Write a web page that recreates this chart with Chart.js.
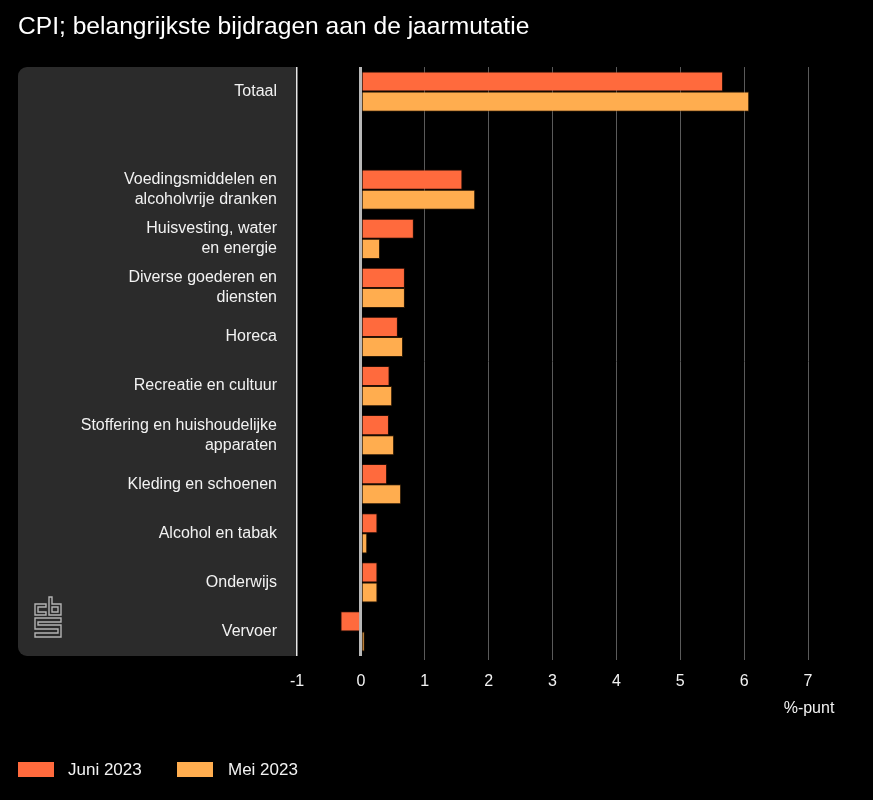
<!DOCTYPE html>
<html>
<head>
<meta charset="utf-8">
<script src="https://cdn.jsdelivr.net/npm/chart.js@4/dist/chart.umd.min.js"></script>
<style>
  html, body { margin: 0; padding: 0; background: #000; }
  #wrap { width: 873px; height: 800px; position: relative; }
</style>
</head>
<body>
<div id="wrap"><canvas id="c"></canvas></div>
<script>
const titleText = 'CPI; belangrijkste bijdragen aan de jaarmutatie';
const categories = [
  'Totaal',
  '',
  ['Voedingsmiddelen en', 'alcoholvrije dranken'],
  ['Huisvesting, water', 'en energie'],
  ['Diverse goederen en', 'diensten'],
  'Horeca',
  'Recreatie en cultuur',
  ['Stoffering en huishoudelijke', 'apparaten'],
  'Kleding en schoenen',
  'Alcohol en tabak',
  'Onderwijs',
  'Vervoer'
];
const seriesNames = ['Juni 2023', 'Mei 2023'];
const juni = [5.67, null, 1.59, 0.83, 0.69, 0.58, 0.45, 0.44, 0.41, 0.26, 0.26, -0.32];
const mei  = [6.08, null, 1.79, 0.30, 0.69, 0.66, 0.49, 0.52, 0.63, 0.10, 0.26, 0.06];
const xMin = -1, xMax = 7, xStep = 1;
const unitLabel = '%-punt';

const FONT = "'Liberation Sans', Arial, sans-serif";
const colJuni = '#ff6a3d';
const colMei = '#ffad4f';

const panelPlugin = {
  id: 'panel',
  beforeDraw(chart) {
    const {ctx, chartArea} = chart;
    ctx.save();
    ctx.fillStyle = '#000';
    ctx.fillRect(0, 0, chart.width, chart.height);
    const x0 = 18, x1 = chartArea.left, y0 = chartArea.top, y1 = chartArea.bottom;
    ctx.fillStyle = '#2b2b2b';
    ctx.beginPath();
    ctx.roundRect(x0, y0, x1 - x0, y1 - y0, [9, 0, 0, 9]);
    ctx.fill();
    // cbs logo
    ctx.strokeStyle = '#b4b4b4';
    ctx.lineWidth = 1.4;
    ctx.lineJoin = 'miter';
    ctx.beginPath();
    ctx.moveTo(46, 604); ctx.lineTo(35, 604); ctx.lineTo(35, 615); ctx.lineTo(46, 615);
    ctx.lineTo(46, 612); ctx.lineTo(38, 612); ctx.lineTo(38, 607); ctx.lineTo(46, 607); ctx.closePath();
    ctx.moveTo(49, 597); ctx.lineTo(52, 597); ctx.lineTo(52, 604); ctx.lineTo(61, 604);
    ctx.lineTo(61, 615); ctx.lineTo(49, 615); ctx.closePath();
    ctx.rect(52, 607, 6, 5);
    ctx.moveTo(35, 618); ctx.lineTo(61, 618); ctx.lineTo(61, 622); ctx.lineTo(38, 622);
    ctx.lineTo(38, 625); ctx.lineTo(61, 625); ctx.lineTo(61, 637); ctx.lineTo(35, 637);
    ctx.lineTo(35, 633); ctx.lineTo(58, 633); ctx.lineTo(58, 629); ctx.lineTo(35, 629); ctx.closePath();
    ctx.stroke();
    ctx.restore();
  },
  afterDraw(chart) {
    const {ctx} = chart;
    const xs = chart.scales.x;
    ctx.save();
    ctx.fillStyle = '#f2f2f2';
    ctx.font = '16px ' + FONT;
    ctx.textAlign = 'center';
    ctx.textBaseline = 'middle';
    ctx.fillText(unitLabel, xs.getPixelForValue(xMax) + 1, 709);
    // legend
    ctx.font = '17px ' + FONT;
    ctx.textAlign = 'left';
    const items = [[18, 68], [177, 228]];
    chart.data.datasets.forEach((ds, i) => {
      ctx.fillStyle = ds.backgroundColor;
      ctx.fillRect(items[i][0], 762, 36, 15);
      ctx.fillStyle = '#f2f2f2';
      ctx.fillText(ds.label, items[i][1], 770);
    });
    ctx.restore();
  }
};

new Chart(document.getElementById('c'), {
  type: 'bar',
  data: {
    labels: categories,
    datasets: [
      { label: seriesNames[0], data: juni, backgroundColor: colJuni, borderColor: 'rgba(70,25,10,0.55)', borderWidth: 1 },
      { label: seriesNames[1], data: mei, backgroundColor: colMei, borderColor: 'rgba(80,45,10,0.55)', borderWidth: 1 }
    ]
  },
  options: {
    indexAxis: 'y',
    responsive: true,
    maintainAspectRatio: false,
    animation: false,
    devicePixelRatio: 1,
    categoryPercentage: 0.82,
    barPercentage: 1.0,
    layout: { padding: { left: 18, right: 65, top: 0, bottom: 110 } },
    plugins: {
      legend: { display: false },
      tooltip: { enabled: false },
      title: {
        display: true,
        text: titleText,
        align: 'start',
        color: '#ffffff',
        font: { family: FONT, size: 24.6, weight: 'normal', lineHeight: 1.2 },
        padding: { top: 12, bottom: 25.5 }
      }
    },
    scales: {
      x: {
        type: 'linear',
        min: xMin, max: xMax,
        afterFit(s) { s.height = 34; },
        ticks: { stepSize: xStep, color: '#f2f2f2', padding: 12, font: { family: FONT, size: 16 } },
        border: { display: false },
        grid: {
          drawTicks: true,
          tickLength: 4,
          color: (c) => c.tick && c.tick.value === -1 ? '#e6e6e6' : (c.tick && c.tick.value === 0 ? '#b8b8b8' : '#5a5a5a'),
          lineWidth: (c) => c.tick && c.tick.value === 0 ? 3 : (c.tick && c.tick.value === -1 ? 1.5 : 1),
          tickColor: (c) => c.tick && (c.tick.value === 0 || c.tick.value === -1) ? 'rgba(0,0,0,0)' : '#5a5a5a'
        }
      },
      y: {
        afterFit(s) { s.width = 279; },
        ticks: { color: '#f2f2f2', padding: 20, font: { family: FONT, size: 16, lineHeight: 1.25 } },
        border: { display: false },
        grid: { display: false, drawTicks: false }
      }
    }
  },
  plugins: [panelPlugin]
});
</script>
</body>
</html>
